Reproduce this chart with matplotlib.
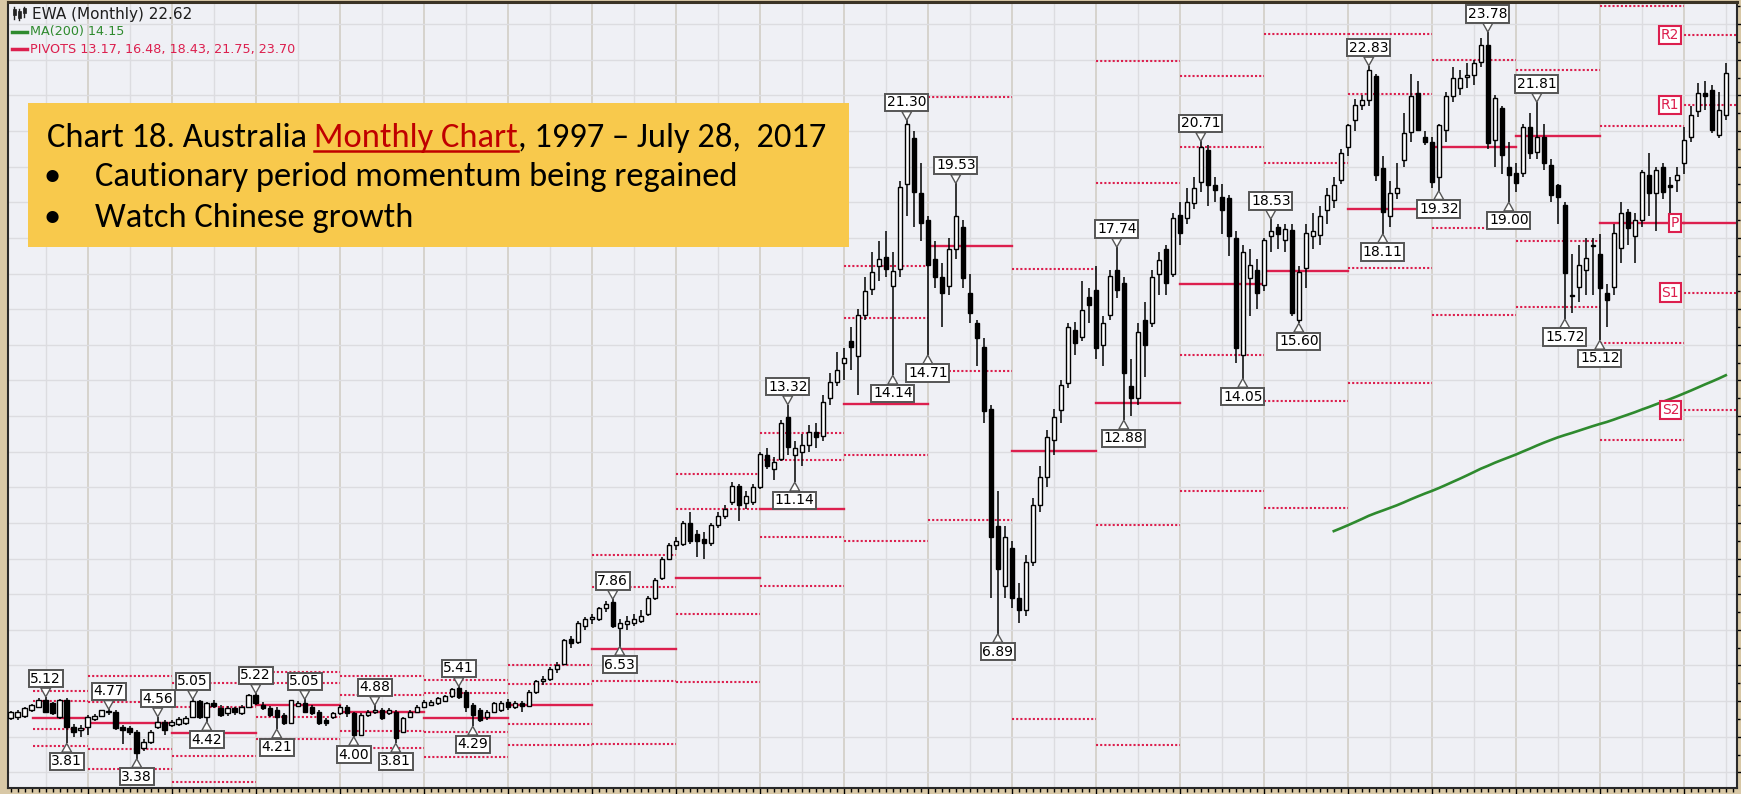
import matplotlib
matplotlib.use('Agg')
import matplotlib.pyplot as plt
from matplotlib import font_manager
from matplotlib.patches import Rectangle
from matplotlib.lines import Line2D
from matplotlib.transforms import Affine2D
import numpy as np
import pandas as pd

plt.close('all')

# EWA monthly candles, Feb 1997 .. Jul 2017 (one row per calendar year)
OPEN = [
    4.52, 4.55, 4.58, 4.75, 4.84, 5.03, 4.94, 4.56, 5.03, 4.28, 4.18,
    4.28, 4.49, 4.58, 4.70, 4.70, 4.28, 4.24, 4.14, 3.67, 3.86, 4.28, 4.42,
    4.33, 4.36, 4.38, 4.56, 5.00, 4.56, 4.94, 4.80, 4.66, 4.80, 4.66, 4.84,
    5.17, 4.90, 4.80, 4.75, 4.61, 4.38, 4.86, 4.94, 4.84, 4.70, 4.47, 4.56,
    4.66, 4.84, 4.66, 4.05, 4.61, 4.70, 4.75, 4.66, 4.70, 4.14, 4.56, 4.70,
    4.84, 4.90, 4.94, 5.00, 5.13, 5.36, 5.26, 4.89, 4.75, 4.56, 4.70, 4.75,
    4.98, 4.84, 4.94, 4.86, 5.25, 5.55, 5.62, 5.90, 6.05, 6.75, 6.65, 7.10,
    7.30, 7.30, 7.60, 7.77, 7.05, 7.15, 7.20, 7.25, 7.45, 7.90, 8.45, 9.00,
    9.38, 9.40, 10.00, 9.70, 9.55, 9.43, 9.95, 10.20, 10.60, 11.05, 10.55, 10.60,
    11.00, 11.90, 11.50, 11.80, 12.97, 11.90, 12.00, 12.20, 12.56, 12.45, 13.50, 13.96,
    14.50, 15.10, 14.68, 15.83, 16.56, 17.20, 17.46, 16.66, 17.13, 19.52, 20.80, 19.26,
    18.50, 17.40, 16.90, 16.66, 17.70, 18.30, 16.45, 15.60, 14.95, 13.20, 9.90, 8.24,
    9.30, 7.90, 7.55, 8.90, 10.50, 11.30, 12.33, 13.17, 13.92, 15.42, 15.23, 16.35,
    16.54, 15.00, 15.84, 17.10, 16.73, 13.83, 13.50, 15.70, 15.60, 17.00, 17.70, 17.00,
    18.64, 18.55, 18.97, 19.58, 20.47, 19.49, 19.16, 19.11, 17.99, 14.71, 16.87, 17.10,
    16.68, 18.04, 18.30, 17.95, 18.22, 15.70, 17.15, 18.05, 18.08, 18.78, 19.07, 19.63,
    20.56, 21.31, 21.73, 21.87, 22.53, 19.95, 18.60, 19.25, 20.19, 20.98, 22.06, 20.84,
    20.70, 19.72, 21.03, 21.97, 22.20, 22.52, 22.57, 22.95, 23.42, 20.75, 21.64, 20.00,
    19.81, 19.81, 21.12, 20.42, 20.84, 20.05, 19.49, 18.93, 16.40, 16.63, 17.10, 17.80,
    17.55, 16.45, 16.63, 17.71, 18.74, 18.04, 18.50, 19.77, 19.25, 20.00, 19.46, 19.63,
    20.10, 20.84, 21.55, 22.06, 22.15, 20.89, 21.45,
]
HIGH = [
    4.72, 4.74, 4.84, 4.93, 5.08, 5.12, 4.98, 5.06, 5.08, 4.36, 4.33,
    4.60, 4.64, 4.76, 4.77, 4.74, 4.32, 4.30, 4.18, 3.94, 4.18, 4.56, 4.48,
    4.47, 4.55, 4.58, 5.05, 5.03, 4.98, 5.02, 4.88, 4.86, 4.84, 4.88, 5.20,
    5.22, 4.96, 4.86, 4.82, 4.66, 5.03, 5.00, 5.05, 4.90, 4.74, 4.52, 4.70,
    4.88, 4.88, 4.70, 4.66, 4.76, 4.88, 4.80, 4.80, 4.74, 4.56, 4.75, 4.89,
    5.03, 5.03, 5.12, 5.18, 5.37, 5.41, 5.30, 4.94, 4.80, 4.75, 4.98, 5.00,
    5.05, 5.00, 5.00, 5.30, 5.60, 5.70, 5.95, 6.10, 6.75, 6.82, 7.25, 7.35,
    7.45, 7.65, 7.80, 7.86, 7.30, 7.40, 7.45, 7.55, 7.95, 8.45, 9.05, 9.45,
    9.60, 10.05, 10.30, 9.80, 9.75, 10.00, 10.30, 10.50, 11.15, 11.10, 10.90, 11.10,
    12.00, 12.10, 11.85, 12.90, 13.32, 12.30, 12.50, 12.75, 12.80, 13.60, 14.20, 14.80,
    14.90, 15.50, 16.00, 16.90, 17.60, 17.90, 18.20, 17.60, 19.60, 21.30, 21.00, 20.10,
    18.60, 17.90, 17.30, 18.00, 19.53, 18.50, 17.00, 15.70, 15.20, 13.30, 10.90, 9.90,
    9.50, 8.30, 9.10, 10.70, 11.60, 12.60, 13.20, 14.00, 15.60, 15.65, 16.80, 16.60,
    17.20, 15.80, 17.10, 17.74, 16.90, 14.60, 15.60, 16.20, 17.10, 17.60, 17.80, 18.70,
    19.00, 19.40, 19.70, 20.71, 20.60, 19.70, 19.50, 19.20, 18.20, 17.80, 17.70, 17.40,
    18.00, 18.53, 18.40, 18.40, 18.40, 17.20, 18.40, 18.70, 18.90, 19.40, 19.70, 20.50,
    21.20, 21.90, 22.00, 22.83, 22.60, 20.30, 19.60, 20.10, 21.50, 22.60, 22.40, 21.00,
    20.84, 21.20, 22.10, 22.80, 22.70, 22.90, 23.00, 23.60, 23.78, 22.00, 21.70, 20.70,
    20.10, 21.20, 21.50, 21.81, 21.20, 20.20, 19.50, 19.00, 17.55, 17.80, 18.00, 18.00,
    18.10, 16.70, 18.40, 19.00, 18.80, 18.70, 19.90, 20.38, 20.00, 20.10, 19.70, 20.00,
    21.10, 21.70, 22.35, 22.40, 22.30, 22.10, 22.90,
]
LOW = [
    4.48, 4.46, 4.52, 4.70, 4.80, 4.66, 4.60, 4.50, 3.81, 3.99, 4.00,
    4.05, 4.45, 4.54, 4.60, 4.20, 3.80, 4.05, 3.38, 3.60, 3.80, 4.22, 4.05,
    4.26, 4.30, 4.32, 4.52, 4.50, 4.42, 4.80, 4.55, 4.58, 4.60, 4.60, 4.80,
    4.90, 4.75, 4.56, 4.21, 4.33, 4.35, 4.82, 4.66, 4.60, 4.33, 4.30, 4.50,
    4.62, 4.55, 4.00, 4.02, 4.56, 4.64, 4.47, 4.60, 3.81, 4.10, 4.52, 4.66,
    4.80, 4.85, 4.90, 4.96, 5.08, 5.05, 4.70, 4.29, 4.40, 4.48, 4.66, 4.70,
    4.75, 4.78, 4.70, 4.82, 5.20, 5.45, 5.55, 5.80, 6.00, 6.50, 6.60, 7.00,
    7.15, 7.25, 7.50, 7.05, 6.53, 7.00, 7.10, 7.20, 7.40, 7.85, 8.40, 8.95,
    9.25, 9.35, 9.40, 9.05, 9.00, 9.35, 9.85, 10.10, 10.50, 10.05, 10.40, 10.50,
    10.95, 11.50, 11.20, 11.75, 11.90, 11.14, 11.60, 12.00, 12.10, 12.30, 13.30, 13.85,
    14.00, 14.30, 13.60, 15.70, 16.40, 16.80, 16.90, 14.14, 16.90, 18.60, 18.30, 17.90,
    14.71, 16.60, 15.50, 16.40, 17.40, 16.60, 15.60, 14.40, 12.80, 7.90, 6.89, 7.90,
    7.60, 7.20, 7.40, 8.80, 10.30, 11.00, 11.90, 12.80, 13.80, 14.70, 15.10, 15.60,
    14.60, 14.40, 15.70, 16.30, 12.88, 13.00, 13.30, 14.10, 15.50, 16.40, 16.40, 16.90,
    17.80, 18.40, 18.80, 19.30, 18.90, 19.00, 18.10, 17.50, 14.50, 14.05, 15.80, 16.00,
    16.50, 17.60, 17.70, 17.60, 15.80, 15.60, 16.60, 17.70, 17.80, 18.40, 18.85, 19.50,
    20.30, 21.00, 21.60, 21.70, 19.60, 18.11, 18.30, 19.10, 20.00, 20.70, 21.00, 20.60,
    19.40, 19.32, 20.70, 21.80, 22.00, 22.20, 22.30, 22.80, 20.50, 20.00, 19.80, 19.00,
    19.30, 19.70, 20.20, 20.20, 19.90, 19.00, 18.40, 15.72, 15.90, 16.20, 16.40, 16.40,
    15.12, 15.50, 16.40, 17.30, 17.80, 17.30, 18.30, 18.60, 18.20, 19.10, 18.50, 19.30,
    19.80, 20.70, 21.40, 21.60, 20.95, 20.80, 21.30,
]
CLOSE = [
    4.68, 4.70, 4.80, 4.89, 5.03, 4.70, 4.66, 5.03, 4.28, 4.14, 4.24,
    4.56, 4.58, 4.75, 4.72, 4.24, 4.19, 4.14, 3.53, 3.86, 4.14, 4.42, 4.19,
    4.42, 4.49, 4.52, 5.00, 4.56, 4.94, 4.86, 4.61, 4.80, 4.70, 4.84, 5.17,
    4.94, 4.80, 4.61, 4.56, 4.38, 5.03, 4.94, 4.70, 4.66, 4.38, 4.38, 4.66,
    4.84, 4.66, 4.05, 4.61, 4.70, 4.75, 4.52, 4.75, 3.96, 4.52, 4.70, 4.84,
    4.98, 4.98, 5.08, 5.13, 5.34, 5.12, 4.84, 4.61, 4.47, 4.70, 4.94, 4.94,
    4.84, 4.94, 4.86, 5.25, 5.55, 5.62, 5.90, 6.02, 6.70, 6.62, 7.20, 7.30,
    7.35, 7.60, 7.72, 7.10, 7.20, 7.25, 7.30, 7.40, 7.90, 8.40, 9.00, 9.38,
    9.48, 10.00, 9.50, 9.50, 9.45, 9.95, 10.20, 10.40, 11.05, 10.50, 10.75, 11.00,
    11.93, 11.60, 11.70, 12.80, 12.14, 12.10, 12.20, 12.56, 12.40, 13.40, 13.96, 14.30,
    14.62, 14.95, 15.83, 16.50, 17.03, 17.40, 17.13, 17.08, 19.42, 21.20, 19.30, 18.43,
    17.24, 16.90, 16.45, 17.70, 18.60, 16.87, 15.90, 15.20, 13.13, 9.60, 8.70, 9.60,
    7.90, 7.55, 8.90, 10.50, 11.30, 12.40, 12.98, 13.87, 15.51, 15.04, 15.98, 16.12,
    14.90, 15.60, 16.93, 16.54, 14.20, 13.50, 15.37, 15.00, 16.90, 17.38, 16.73, 18.55,
    18.13, 19.02, 19.40, 20.56, 19.49, 19.35, 18.78, 18.04, 14.90, 17.60, 17.24, 16.45,
    17.94, 18.18, 18.10, 18.25, 15.88, 17.05, 18.13, 18.20, 18.60, 19.21, 19.49, 20.37,
    21.17, 21.73, 21.87, 22.71, 19.77, 18.74, 19.25, 19.40, 20.94, 21.98, 21.03, 20.70,
    19.58, 21.17, 21.97, 22.48, 22.48, 22.57, 22.90, 23.42, 20.66, 21.92, 20.33, 19.77,
    19.53, 21.12, 20.38, 20.84, 20.10, 19.21, 19.16, 17.01, 16.36, 17.24, 17.43, 17.76,
    16.59, 16.26, 18.13, 18.69, 18.27, 18.50, 19.86, 19.25, 19.91, 19.30, 19.44, 19.77,
    20.75, 21.45, 22.06, 21.97, 21.03, 21.59, 22.62,
]

# closes before the first visible candle (Apr 1996 .. Jan 1997), they only feed the MA(200)
EARLY_CLOSE = [4.40, 4.45, 4.30, 4.20, 4.35, 4.50, 4.60, 4.75, 4.72, 4.55]
# 1996 high / low / close -> pivots of the first (1997) block
HLC_1996 = [4.80, 4.02, 4.72]

# swing labels: month index (0 = Jan 1997) and high / low
LABEL_MONTHS = [6, 9, 15, 19, 22, 27, 29, 36, 39, 43, 50, 53, 56, 65, 67, 87, 88,
                112, 113, 127, 129, 132, 136, 142, 159, 160, 171, 177, 181, 185,
                195, 197, 205, 212, 215, 219, 223, 228]
LABEL_KINDS = list('HLHLHHLHLHLHLHLHLHLLHLHLHLHLHLHLLHLHLL')

LEGEND = ['EWA (Monthly) 22.62', 'MA(200) 14.15',
          'PIVOTS 13.17, 16.48, 18.43, 21.75, 23.70']
TITLE = ['Chart 18. Australia ', 'Monthly Chart', ', 1997 \u2013 July 28,  2017']
BULLETS = ['Cautionary period momentum being regained', 'Watch Chinese growth']

PIV = '#dc1f4e'
GREEN = '#2e8a2e'
W, H = 1741, 794

fig = plt.figure(figsize=(W / 100, H / 100), dpi=100, facecolor='#d8c8a6')
ax = fig.add_axes([8 / W, 6 / H, 1729 / W, 786 / H])
ax.set_facecolor('#eff0f5')
x_left, x_right = 0.61, 247.6
ax.set_xlim(x_left, x_right)
ax.set_ylim(2.56, 24.62)

# grid: half-year verticals, slightly darker year lines, one line per dollar
for m in range(0, 252, 6):
    if m % 12 == 0:
        ax.axvline(m, color='#d2cec6', lw=1.2, zorder=0)
    else:
        ax.axvline(m, color='#dcdce0', lw=1.0, zorder=0)
for p in range(3, 25):
    ax.axhline(p, color='#dcdce0', lw=1.0, zorder=0)

o = np.array(OPEN)
h = np.array(HIGH)
l = np.array(LOW)
c = np.array(CLOSE)
x = np.arange(1, len(c) + 1)

# yearly floor-trader pivots from the previous year's high / low / close
last_levels = None
for yr in range(1997, 2018):
    if yr == 1997:
        ph, pl, pc = HLC_1996
        x0, x1 = 4.2, 12
    else:
        a = max(12 * (yr - 1998), 1) - 1
        b = 12 * (yr - 1997) - 1
        ph, pl, pc = h[a:b].max(), l[a:b].min(), c[b - 1]
        x0 = 12 * (yr - 1997)
        x1 = x0 + 12 if yr < 2017 else x_right
    pp = (ph + pl + pc) / 3
    levels = {'R2': pp + (ph - pl), 'R1': 2 * pp - pl, 'P': pp,
              'S1': 2 * pp - ph, 'S2': pp - (ph - pl)}
    for name, v in levels.items():
        if name == 'P':
            ax.plot([x0, x1], [v, v], color=PIV, lw=1.7, zorder=1)
        else:
            ax.plot([x0, x1], [v, v], color=PIV, lw=1.5, ls=(0, (1, 1)), zorder=1)
    last_levels = levels

for name, v in last_levels.items():
    ax.text(239.35, v, name, ha='right', va='center', fontsize=10, color=PIV,
            bbox=dict(boxstyle='square,pad=0.15', fc='white', ec=PIV, lw=1.5), zorder=7)

# 200-month moving average
closes_all = pd.Series(EARLY_CLOSE + CLOSE,
                       index=np.arange(1 - len(EARLY_CLOSE), len(CLOSE) + 1))
ma = closes_all.rolling(200).mean().dropna()
ax.plot(ma.index, ma.values, color=GREEN, lw=1.9, zorder=5)

# candles
up = c >= o
ax.vlines(x, l, h, color='black', lw=1.1, zorder=3)
body_lo = np.minimum(o, c)
body_h = np.maximum(np.abs(c - o), 0.03)
ax.bar(x[up], body_h[up], bottom=body_lo[up], width=0.64, color='white',
       edgecolor='black', linewidth=1.0, zorder=4)
ax.bar(x[~up], body_h[~up], bottom=body_lo[~up], width=0.64, color='black',
       edgecolor='black', linewidth=1.0, zorder=4)

# swing high / low tags
for m, kind in zip(LABEL_MONTHS, LABEL_KINDS):
    v = h[m - 1] if kind == 'H' else l[m - 1]
    dy = 18 if kind == 'H' else -18
    ax.annotate(f'{v:.2f}', xy=(m, v), xytext=(0, dy), textcoords='offset pixels',
                ha='center', va='center', fontsize=10, color='black',
                bbox=dict(boxstyle='square,pad=0.12', fc='white', ec='#555555', lw=1.4),
                arrowprops=dict(arrowstyle='wedge,tail_width=0.7,shrink_factor=0.5',
                                fc='white', ec='#555555', lw=1.0, shrinkA=0, shrinkB=0),
                zorder=8)

# axes frame and ticks (the year labels sit below the cropped bottom edge)
ax.set_xticks(range(12, 247, 12))
ax.set_xticks(range(1, 248), minor=True)
ax.tick_params(axis='x', which='both', labelbottom=False)
ax.tick_params(axis='x', which='major', length=5, width=1)
ax.tick_params(axis='x', which='minor', length=3, width=1)
ax.set_yticks(range(3, 25))
ax.set_yticks(np.arange(3.5, 24.6, 1.0), minor=True)
ax.tick_params(axis='y', which='both', left=False, right=True,
               labelleft=False, labelright=False)
ax.tick_params(axis='y', which='major', length=4, width=1)
ax.tick_params(axis='y', which='minor', length=2, width=1)
for s in ax.spines.values():
    s.set_color('#2a2a2a')
    s.set_linewidth(1.5)
ax.spines['top'].set_color('#3b3325')
ax.spines['top'].set_linewidth(2.2)

# pixel coordinates from the top-left corner of the figure
PX = Affine2D().scale(1 / W, -1 / H).translate(0, 1) + fig.transFigure

# legend in the top-left corner
for xi, wt, wb, bt, bb in [(14, 7, 19, 9, 15), (19, 9, 20, 11, 18), (24, 7, 17, 8, 13)]:
    fig.add_artist(Line2D([xi, xi], [wt, wb], transform=PX, color='#222222', lw=1))
    fig.add_artist(Rectangle((xi - 1.5, bt), 3, bb - bt, transform=PX,
                             fc='#222222', ec='#222222', lw=0.5))
fig.text(32, 14, LEGEND[0], transform=PX, va='center', fontsize=11, color='#1e1e1e')
fig.add_artist(Line2D([12, 27], [32, 32], transform=PX, color=GREEN, lw=2.5))
fig.text(30, 32, LEGEND[1], transform=PX, va='center', fontsize=9.2, color=GREEN)
fig.add_artist(Line2D([12, 27], [49, 49], transform=PX, color=PIV, lw=2.5))
fig.text(30, 49, LEGEND[2], transform=PX, va='center', fontsize=9.2, color=PIV)

# yellow annotation box
fig.add_artist(Rectangle((27.8, 103), 821.6, 143.5, transform=PX,
                         facecolor='#f8c94c', edgecolor='none', zorder=5))


def pick_family(names):
    for n in names:
        try:
            font_manager.findfont(font_manager.FontProperties(family=n),
                                  fallback_to_default=False)
            return n
        except ValueError:
            continue
    return 'DejaVu Sans'


BOX_FONT = pick_family(['Carlito', 'Liberation Sans Narrow', 'Lato', 'Open Sans'])
fig.canvas.draw()
rend = fig.canvas.get_renderer()


def text_width(s, size):
    t = fig.text(0, 0, s, fontsize=size, family=BOX_FONT)
    w = t.get_window_extent(rend).width
    t.remove()
    return w


fs = 20 * 780 / text_width(''.join(TITLE), 20)
xw = text_width('x', fs)
tx0, tbase = 46.6, 147
for k, piece in enumerate(TITLE):
    xs = tx0 + text_width(''.join(TITLE[:k]) + 'x', fs) - xw if k else tx0
    col = '#c00000' if k == 1 else 'black'
    fig.text(xs, tbase, piece, transform=PX, va='baseline', fontsize=fs,
             family=BOX_FONT, color=col, zorder=6)
    if k == 1:
        wpiece = text_width(piece, fs)
        fig.add_artist(Line2D([xs, xs + wpiece], [tbase + 4, tbase + 4], transform=PX,
                              color='#c00000', lw=1.8, zorder=6))
for line, base in zip(BULLETS, [186, 227]):
    fig.text(44, base, '\u2022', transform=PX, va='baseline', fontsize=fs,
             family=BOX_FONT, color='black', zorder=6)
    fig.text(95, base, line, transform=PX, va='baseline', fontsize=fs,
             family=BOX_FONT, color='black', zorder=6)

fig.savefig('out.png', dpi=100, facecolor=fig.get_facecolor())
